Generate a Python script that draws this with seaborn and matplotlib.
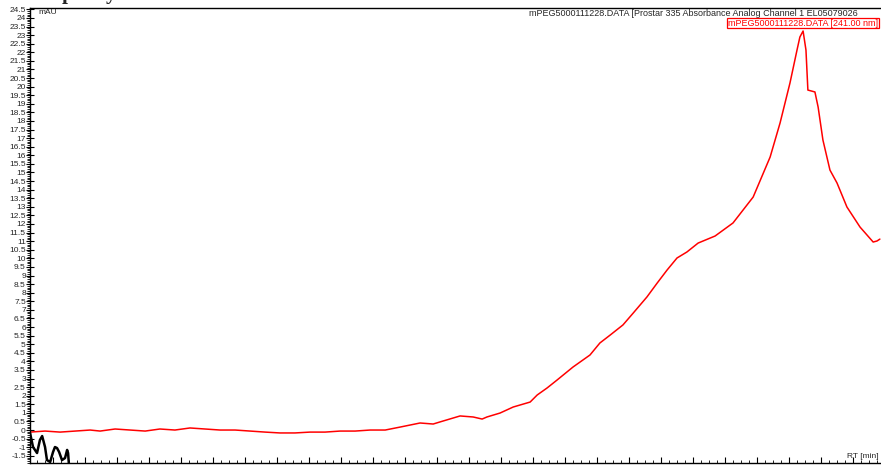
import numpy as np
import pandas as pd
import seaborn as sns
import matplotlib.pyplot as plt
from matplotlib.ticker import MultipleLocator, FuncFormatter

# red trace: mPEG5000111228.DATA [241.00 nm]
rt_red = [0.28, 0.75, 1.22, 1.69, 2.16, 2.47, 2.94, 3.41, 3.88, 4.34, 4.81, 5.28,
          5.75, 6.22, 6.69, 7.16, 7.63, 8.09, 8.56, 9.03, 9.5, 9.97, 10.44, 10.91,
          11.38, 11.84, 12.47, 12.88, 13.09, 13.72, 14.13, 14.41, 14.56, 14.97,
          15.38, 15.91, 16.13, 16.44, 16.75, 17.25, 17.78, 18.09, 18.41, 18.81,
          19.13, 19.56, 19.88, 20.19, 20.5, 20.81, 21.16, 21.69, 22.25, 22.88,
          23.41, 23.72, 24.03, 24.25, 24.34, 24.44, 24.53, 24.59, 24.81, 24.91,
          25.06, 25.28, 25.5, 25.81, 26.22, 26.63, 26.75, 26.84]
mau_red = [-0.12, -0.06, -0.12, -0.06, 0.0, -0.06, 0.06, 0.0, -0.06, 0.06, 0.0, 0.12,
           0.06, 0.0, 0.0, -0.06, -0.12, -0.17, -0.17, -0.12, -0.12, -0.06, -0.06, 0.0,
           0.0, 0.17, 0.41, 0.35, 0.47, 0.82, 0.76, 0.64, 0.76, 0.99,
           1.34, 1.63, 2.04, 2.45, 2.91, 3.67, 4.37, 5.07, 5.53, 6.12,
           6.81, 7.75, 8.56, 9.32, 10.02, 10.37, 10.89, 11.3, 12.06, 13.57,
           15.9, 17.88, 20.21, 22.13, 22.89, 23.24, 22.13, 19.8, 19.69, 18.81,
           16.89, 15.14, 14.39, 12.99, 11.82, 10.95, 11.01, 11.12]

# black trace (reference channel), runs off the bottom
rt_black = [0.28, 0.375, 0.5, 0.59, 0.66, 0.75, 0.81, 0.91, 1.0, 1.06, 1.125,
            1.19, 1.28, 1.375, 1.44, 1.47, 1.5]
mau_black = [-0.17, -0.99, -1.34, -0.58, -0.35, -0.99, -1.75, -1.86, -1.28, -0.99,
             -1.05, -1.28, -1.75, -1.63, -1.16, -1.34, -2.1]

red = pd.DataFrame({"rt": rt_red, "mAU": mau_red})
black = pd.DataFrame({"rt": rt_black, "mAU": mau_black})

sns.set_style("white")
plt.rcParams['font.family'] = ['Liberation Sans', 'DejaVu Sans']

W, H = 881, 467
fig = plt.figure(figsize=(W / 100, H / 100), dpi=100)
ax = fig.add_axes([30 / W, 4 / H, 871 / W, 455 / H])

sns.lineplot(data=black, x="rt", y="mAU", color="black", lw=1.8, ax=ax, sort=False)
sns.lineplot(data=red, x="rt", y="mAU", color="#ff0000", lw=1.1, ax=ax, sort=False)

ax.set_xlim(0.28, 27.5)
ax.set_ylim(-1.92, 24.58)
ax.set_xlabel("")
ax.set_ylabel("")

for s in ax.spines.values():
    s.set_color("black")
    s.set_linewidth(1.0)

ax.yaxis.set_major_locator(MultipleLocator(0.5))
ax.yaxis.set_minor_locator(MultipleLocator(0.1))
ax.yaxis.set_major_formatter(FuncFormatter(lambda v, p: f"{v:g}"))
ax.xaxis.set_major_locator(MultipleLocator(1))
ax.xaxis.set_minor_locator(MultipleLocator(0.25))
ax.tick_params(axis="y", which="major", direction="inout", length=6, width=0.8,
               labelsize=6, pad=0, left=True, color="black")
ax.tick_params(axis="y", which="minor", direction="out", length=2.5, width=0.6,
               left=True, color="black")
ax.tick_params(axis="x", which="major", direction="in", length=4, width=0.8,
               labelbottom=False, bottom=True, color="black")
ax.tick_params(axis="x", which="minor", direction="in", length=2, width=0.6,
               bottom=True, color="black")

fig.text(38 / W, 1 - 13 / H, "mAU", fontsize=6, va="center", ha="left")
fig.text(858 / W, 1 - 13 / H,
         "mPEG5000111228.DATA [Prostar 335 Absorbance Analog Channel 1 EL05079026",
         fontsize=6.5, va="center", ha="right")
fig.text(878 / W, 1 - 23 / H, "mPEG5000111228.DATA [241.00 nm]", fontsize=6.5,
         color="#ff0000", va="center", ha="right",
         bbox=dict(boxstyle="square,pad=0.1", fc="white", ec="#ff0000", lw=0.9))
fig.text(879 / W, 1 - 457 / H, "RT [min]", fontsize=6, va="center", ha="right")

# clipped heading glyphs above the chart
fig.text(62 / W, 1 + 1 / H, "p", fontsize=15, family="Liberation Serif",
         weight="bold", va="baseline", ha="left")
fig.text(106 / W, 1 + 1 / H, "y", fontsize=15, family="Liberation Serif",
         weight="bold", va="baseline", ha="left")

fig.savefig("out.png", dpi=100)
